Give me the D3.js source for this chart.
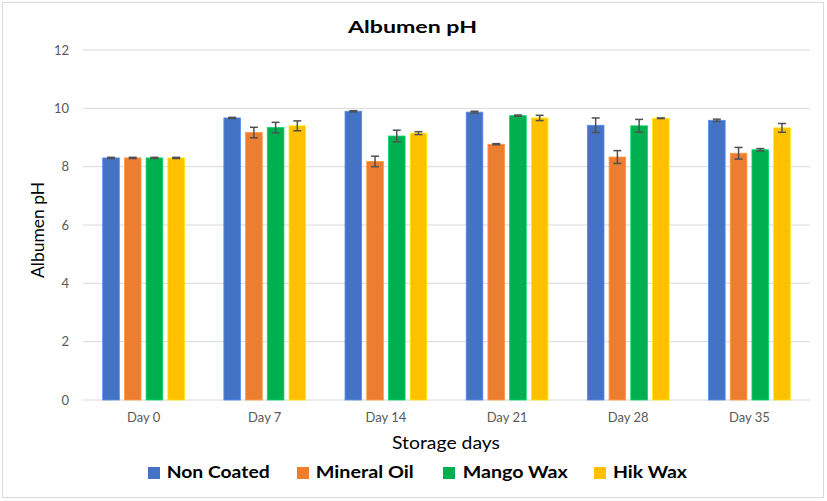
<!DOCTYPE html>
<html><head><meta charset="utf-8">
<script src="https://cdn.jsdelivr.net/npm/d3@7"></script>
<style>body{margin:0;background:#fff}svg{display:block;font-family:Lato,"Open Sans",sans-serif}</style>
</head><body>
<svg id="c" width="827" height="501"></svg>
<script>
const categories = ["Day 0","Day 7","Day 14","Day 21","Day 28","Day 35"];
const seriesNames = ["Non Coated","Mineral Oil","Mango Wax","Hik Wax"];
const colors = ["#4472C4","#ED7D31","#00B050","#FFC000"];
const nonCoated  = [8.30, 9.67, 9.90, 9.87, 9.42, 9.59];
const mineralOil = [8.30, 9.17, 8.18, 8.77, 8.33, 8.46];
const mangoWax   = [8.30, 9.34, 9.05, 9.75, 9.40, 8.58];
const hikWax     = [8.30, 9.40, 9.15, 9.67, 9.66, 9.33];
const errNonCoated  = [0.02, 0.02, 0.02, 0.03, 0.25, 0.04];
const errMineralOil = [0.02, 0.18, 0.18, 0.02, 0.22, 0.20];
const errMangoWax   = [0.02, 0.18, 0.20, 0.02, 0.22, 0.04];
const errHikWax     = [0.02, 0.17, 0.05, 0.09, 0.01, 0.15];
const yTicks = [0,2,4,6,8,10,12];

const values = [nonCoated, mineralOil, mangoWax, hikWax];
const errs = [errNonCoated, errMineralOil, errMangoWax, errHikWax];

const svg = d3.select("#c");
const mLeft = 83, mRight = 810, mTop = 50, mBottom = 400;

svg.append("rect").attr("x",2.5).attr("y",2.5).attr("width",821).attr("height",495)
  .attr("fill","#fff").attr("stroke","#d9d9d9").attr("stroke-width",1);

const x0 = d3.scaleBand().domain(categories).range([mLeft,mRight]).paddingInner(0.325).paddingOuter(0.1625);
const x1 = d3.scaleBand().domain(seriesNames).range([0,x0.bandwidth()]).paddingInner(0.234).paddingOuter(0);
const y = d3.scaleLinear().domain([0,12]).range([mBottom,mTop]);

svg.append("g").selectAll("line").data(yTicks).join("line")
  .attr("x1",mLeft).attr("x2",mRight).attr("y1",d=>y(d)).attr("y2",d=>y(d))
  .attr("stroke","#d9d9d9").attr("stroke-width",1);

svg.append("g").selectAll("text").data(yTicks).join("text")
  .attr("x",69).attr("y",d=>y(d)).attr("dy","0.35em").attr("text-anchor","end")
  .attr("font-size",13).attr("fill","#595959").text(d=>d);

const groups = svg.append("g").selectAll("g").data(categories).join("g")
  .attr("transform",d=>`translate(${x0(d)},0)`);
seriesNames.forEach((s,si)=>{
  groups.append("rect")
    .attr("x",x1(s)).attr("width",x1.bandwidth())
    .attr("y",(d,i)=>y(values[si][i])).attr("height",(d,i)=>y(0)-y(values[si][i]))
    .attr("fill",colors[si]).attr("stroke",d3.color(colors[si]).brighter(0.6)).attr("stroke-width",0.8);
  const cx = x1(s)+x1.bandwidth()/2;
  const eg = groups.append("g").attr("stroke","#505050").attr("stroke-width",1.5);
  eg.append("line").attr("x1",cx).attr("x2",cx)
    .attr("y1",(d,i)=>y(values[si][i]+errs[si][i])).attr("y2",(d,i)=>y(values[si][i]-errs[si][i]));
  eg.append("line").attr("x1",cx-4).attr("x2",cx+4)
    .attr("y1",(d,i)=>y(values[si][i]+errs[si][i])).attr("y2",(d,i)=>y(values[si][i]+errs[si][i]));
  eg.append("line").attr("x1",cx-4).attr("x2",cx+4)
    .attr("y1",(d,i)=>y(values[si][i]-errs[si][i])).attr("y2",(d,i)=>y(values[si][i]-errs[si][i]));
});

svg.append("g").selectAll("text").data(categories).join("text")
  .attr("x",d=>x0(d)+x0.bandwidth()/2).attr("y",422).attr("text-anchor","middle")
  .attr("font-size",13).attr("fill","#595959").text(d=>d);

svg.append("text").attr("x",412.5).attr("y",32.5).attr("text-anchor","middle")
  .attr("font-size",17).attr("font-weight","bold").attr("fill","#000")
  .attr("textLength",129).attr("lengthAdjust","spacingAndGlyphs").text("Albumen pH");
svg.append("text").attr("x",446).attr("y",449).attr("text-anchor","middle")
  .attr("font-size",17).attr("fill","#000")
  .attr("textLength",108).attr("lengthAdjust","spacingAndGlyphs").text("Storage days");
svg.append("text").attr("transform","translate(44,230) rotate(-90)").attr("text-anchor","middle")
  .attr("font-size",17).attr("fill","#000")
  .attr("textLength",96).attr("lengthAdjust","spacingAndGlyphs").text("Albumen pH");

const legSq = [148,297,443,594];
const legTx = [166.7,315.7,462.7,613];
const legLen = [103,98,105,74];
const lg = svg.append("g");
seriesNames.forEach((s,i)=>{
  lg.append("rect").attr("x",legSq[i]).attr("y",467).attr("width",12).attr("height",12).attr("fill",colors[i]);
  lg.append("text").attr("x",legTx[i]).attr("y",478.3).attr("font-size",17).attr("font-weight","bold")
    .attr("fill","#000").attr("textLength",legLen[i]).attr("lengthAdjust","spacingAndGlyphs").text(s);
});
</script>
</body></html>
